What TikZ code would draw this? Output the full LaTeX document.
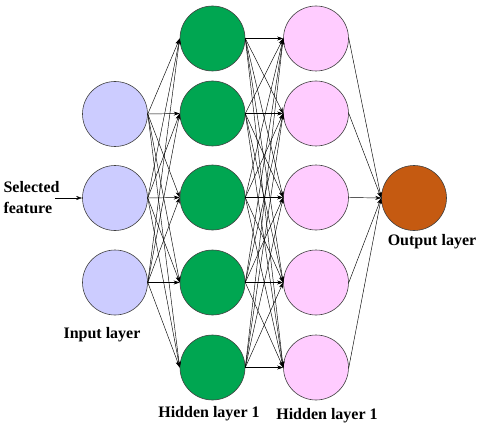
\documentclass[tikz,border=0pt]{standalone}
\usepackage{fontspec}
\setmainfont{Liberation Serif}
\usetikzlibrary{arrows.meta}

\definecolor{entree}{RGB}{204,204,255}
\definecolor{cachee}{RGB}{0,166,81}
\definecolor{cacheeb}{RGB}{255,204,255}
\definecolor{sortie}{RGB}{197,90,17}

\tikzset{
  neurone/.style={circle, draw=black!75, line width=0.6pt, minimum size=65pt, inner sep=0pt},
  lien/.style={-{Stealth[length=6pt,width=4pt]}, line width=0.45pt},
  legende/.style={font=\fontsize{16}{21}\selectfont\bfseries}
}

\begin{document}
\begin{tikzpicture}[x=1pt, y=-1pt]
        \useasboundingbox (0,0) rectangle (480,428);

        % Couche d'entree
        \node[neurone, fill=entree] (E1) at (115,114) {};
        \node[neurone, fill=entree] (E2) at (115,198) {};
        \node[neurone, fill=entree] (E3) at (115,282.5) {};

        % Couches cachees
        \foreach \i/\y in {1/38.5, 2/113.5, 3/197.5, 4/282.5, 5/367.5} {
            \node[neurone, fill=cachee] (A\i) at (212.5,\y) {};
            \node[neurone, fill=cacheeb] (B\i) at (316,\y) {};
        }

        % Couche de sortie
        \node[neurone, fill=sortie] (S) at (414,198) {};

        % Liaisons (du point est au point ouest)
        \foreach \i in {1,2,3}
            \foreach \j in {1,...,5}
                \draw[lien] (E\i.east) -- (A\j.west);
        \foreach \i in {1,...,5}
            \foreach \j in {1,...,5}
                \draw[lien] (A\i.east) -- (B\j.west);
        \foreach \i in {1,...,5}
            \draw[lien] (B\i.east) -- (S.west);

        % Entree et legendes
        \node[legende, align=left, anchor=west] (feat) at (0,198) {Selected\\feature};
        \coordinate (depart) at (55,198);
        \draw[lien] (depart) -- (E2.west);
        \node[legende] (lE) at (102,335) {Input layer};
        \node[legende] (lA) at (209,414) {Hidden layer 1};
        \node[legende] (lB) at (327,416) {Hidden layer 1};
        \node[legende] (lS) at (432,242) {Output layer};
    \end{tikzpicture}
\end{document}
